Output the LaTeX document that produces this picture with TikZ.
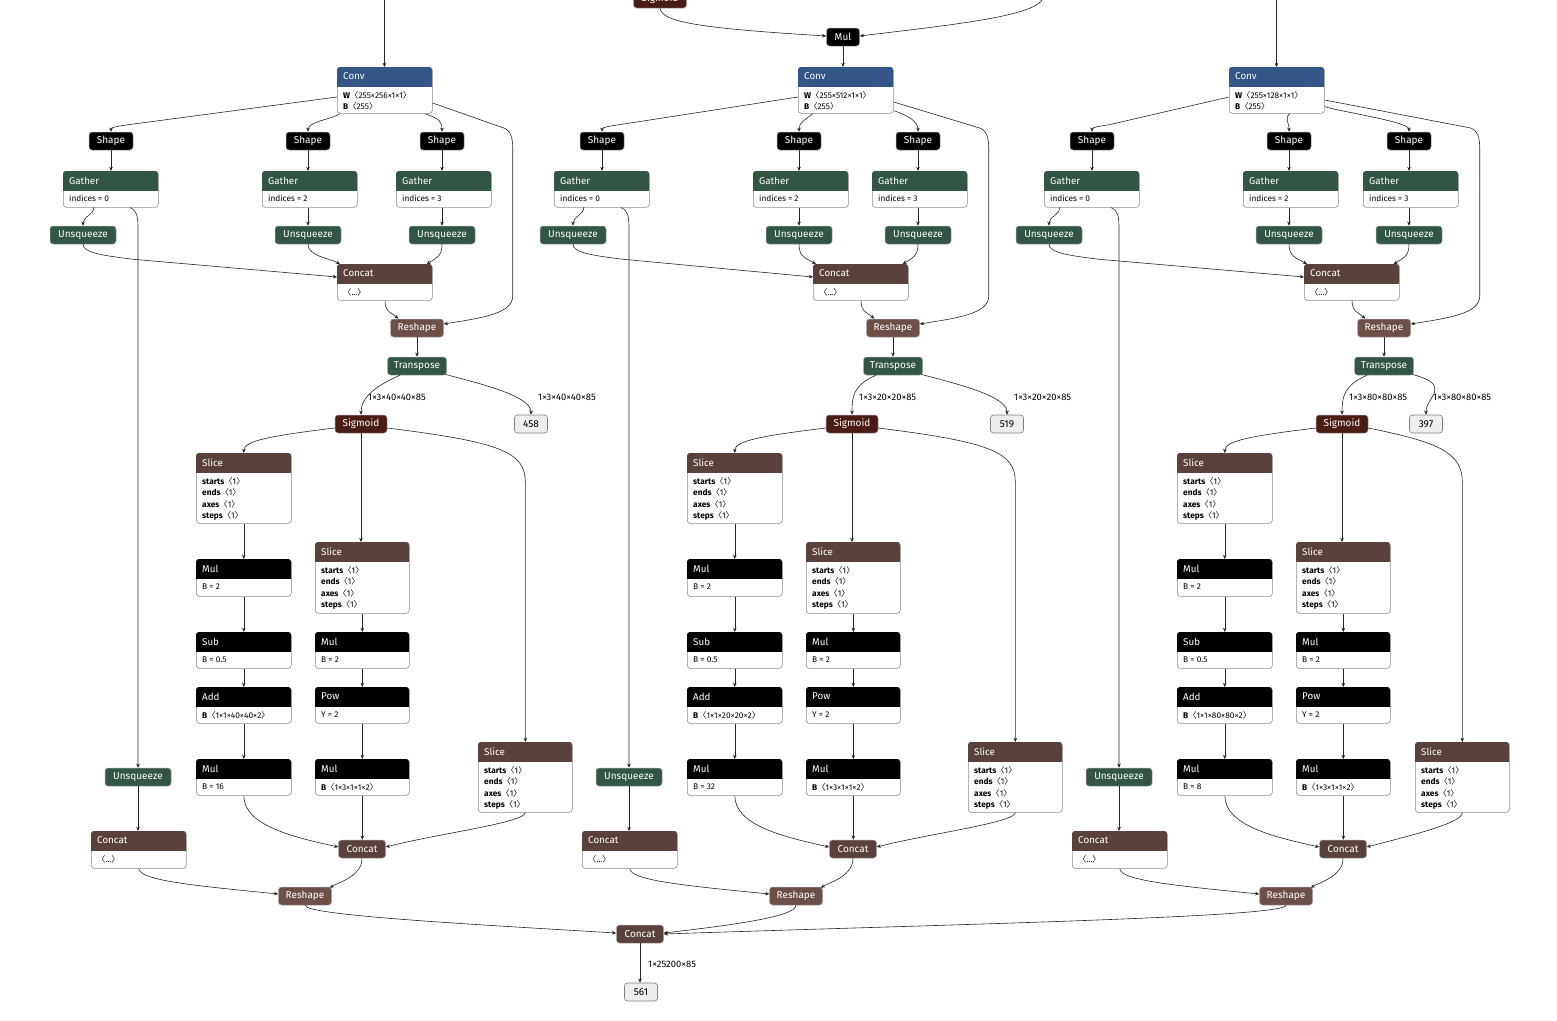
\documentclass[tikz,border=0pt]{standalone}
\usepackage{fontspec}
\setmainfont{Fira Sans}
\newfontfamily\cjkf{Noto Sans CJK SC}
\usetikzlibrary{arrows.meta,calc}
\definecolor{cLayer}{RGB}{51,85,136}
\definecolor{cTrans}{RGB}{51,85,68}
\definecolor{cTensor}{RGB}{89,66,59}
\definecolor{cShape}{RGB}{108,79,71}
\definecolor{cAct}{RGB}{75,27,22}
\definecolor{cOut}{RGB}{238,238,238}
\newcommand\NLa{{\cjkf 〈}}
\newcommand\NRa{{\cjkf 〉}}
\newcommand\SliceBody{\textbf{starts}\NLa1\NRa\\\textbf{ends}\NLa1\NRa\\\textbf{axes}\NLa1\NRa\\\textbf{steps}\NLa1\NRa}
\tikzset{
  hdr/.style={font=\fontsize{9.8}{11}\selectfont, text=white, anchor=west, inner sep=0pt},
  bdy/.style={font=\fontsize{8.3}{11.3}\selectfont, anchor=north west, align=left, inner sep=0pt, text=black},
  op/.style={rounded corners=3pt, minimum height=18pt, inner xsep=4pt, inner ysep=0pt, text=white, font=\fontsize{10}{11}\selectfont, draw=black!35, line width=0.5pt},
  outp/.style={rounded corners=3pt, minimum height=18pt, minimum width=33pt, inner sep=0pt, fill=cOut, draw=black!50, line width=0.6pt, text=black, font=\fontsize{10}{11}\selectfont},
  lbl/.style={font=\fontsize{9.4}{11}\selectfont, anchor=west, inner sep=0pt, text=black},
  edge/.style={draw=black!85, line width=0.6pt, -{Stealth[length=4.2pt,width=3.6pt]}},
}
% name, left x, top y, width, height, colour, title, body
\newcommand\NN[8]{%
  \node[anchor=north west, minimum width=#4pt, minimum height=#5pt, inner sep=0pt, rounded corners=3pt, draw=black!45, fill=white, line width=0.6pt] (#1) at (#2,#3) {};
  \begin{scope}\clip (#2,#3) rectangle ++(#4,19);\fill[#6, rounded corners=3pt] (#2,#3) rectangle ++(#4,#5);\end{scope}
  \node[hdr] (#1h) at ({#2+6},{#3+9.5}) {#7};
  \node[bdy] (#1b) at ({#2+6},{#3+24.2}) {#8};
}
\newcommand\Col[1]{%
  \NN{#1conv}{337+\dC}{67}{95}{46}{cLayer}{Conv}{\textbf{W}\NLa255×\Wt×1×1\NRa\\\textbf{B}\NLa255\NRa}
  \node[op,fill=black,minimum width=44pt] (#1shL) at (111+\dA,141) {Shape};
  \node[op,fill=black,minimum width=44pt] (#1shM) at (308+\dA,141) {Shape};
  \node[op,fill=black,minimum width=44pt] (#1shR) at (442+\dB,141) {Shape};
  \NN{#1gaL}{63+\dA}{171}{95}{36}{cTrans}{Gather}{indices = 0}
  \NN{#1gaM}{262+\dA}{171}{95}{36}{cTrans}{Gather}{indices = 2}
  \NN{#1gaR}{396+\dB}{171}{95}{36}{cTrans}{Gather}{indices = 3}
  \node[op,fill=cTrans,minimum width=66pt] (#1unL) at (83+\dU,235) {Unsqueeze};
  \node[op,fill=cTrans,minimum width=66pt] (#1unM) at (308+\dA,235) {Unsqueeze};
  \node[op,fill=cTrans,minimum width=66pt] (#1unR) at (442+\dB,235) {Unsqueeze};
  \NN{#1ccA}{337+\dB}{264}{95}{36}{cTensor}{Concat}{\NLa...\NRa}
  \node[op,fill=cShape,minimum width=53pt] (#1rsA) at (417+\dB,328) {Reshape};
  \node[op,fill=cTrans,minimum width=59pt] (#1tr) at (417+\dB,366) {Transpose};
  \node[op,fill=cAct,minimum width=52pt] (#1sig) at (361+\dA,424) {Sigmoid};
  \node[outp] (#1out) at (531+\dO,424) {\Ot};
  \node[lbl] (#1lbA) at (368+\dA,397) {1×3×\Lt×\Lt×85};
  \node[lbl] (#1lbB) at (538+\dO,397) {1×3×\Lt×\Lt×85};
  \NN{#1slL}{196+\dA}{453}{95}{70}{cTensor}{Slice}{\SliceBody}
  \NN{#1mulA}{196+\dA}{559}{95}{37}{black}{Mul}{B = 2}
  \NN{#1sub}{196+\dA}{632}{95}{36}{black}{Sub}{B = 0.5}
  \NN{#1add}{196+\dA}{687}{95}{36}{black}{Add}{\textbf{B}\NLa1×1×\Lt×\Lt×2\NRa}
  \NN{#1mulB}{196+\dA}{759}{95}{36}{black}{Mul}{B = \Mt}
  \NN{#1slM}{315+\dA}{542}{94}{71}{cTensor}{Slice}{\SliceBody}
  \NN{#1mulC}{315+\dA}{632}{94}{36}{black}{Mul}{B = 2}
  \NN{#1pow}{315+\dA}{687}{94}{36}{black}{Pow}{Y = 2}
  \NN{#1mulD}{315+\dA}{759}{94}{36}{black}{Mul}{\textbf{B}\NLa1×3×1×1×2\NRa}
  \NN{#1slR}{478+\dS}{742}{94}{70}{cTensor}{Slice}{\SliceBody}
  \node[op,fill=cTensor,minimum width=47pt] (#1ccB) at (362+\dA,849) {Concat};
  \node[op,fill=cTrans,minimum width=66pt] (#1unLo) at (138+\dA,777) {Unsqueeze};
  \NN{#1ccC}{91+\dA}{831}{95}{37}{cTensor}{Concat}{\NLa...\NRa}
  \node[op,fill=cShape,minimum width=53pt] (#1rsB) at (305+\dA,896) {Reshape};
  % connectors
  \draw[edge] (#1in) -- (#1in |- #1conv.north);
  \draw[edge] ($(#1conv.north west)+(0,30)$) -- ($(#1shL.north)+(17,-7)$) .. controls ($(#1shL.north)+(3,-5)$) and ($(#1shL.north)+(0,-4)$) .. (#1shL.north);
  \draw[edge] ($(#1conv.south west)+(\mo,0)$) .. controls ($(#1conv.south west)+(\mo-6,5)$) and ($(#1shM.north)+(0,-10)$) .. (#1shM.north);
  \draw[edge] ($(#1conv.south east)+(\rox,\roy)$) .. controls ($(#1conv.south east)+(\rox+15,\roy+5)$) and ($(#1shR.north)+(0,-10)$) .. (#1shR.north);
  \draw[edge] ($(#1conv.north east)+(0,\rro)$) -- ($(#1rsA.east)+(60,-200)$) .. controls ($(#1rsA.east)+(67,-197)$) and ($(#1rsA.east)+(69,-191)$) .. ($(#1rsA.east)+(69,-178)$) -- ($(#1rsA.east)+(69,-32)$) .. controls ($(#1rsA.east)+(69,-14)$) and ($(#1rsA.east)+(37,-10)$) .. ($(#1rsA.east)+(0,-4)$);
  \draw[edge] (#1shL.south) -- (#1shL.south |- #1gaL.north);
  \draw[edge] (#1shM.south) -- (#1shM.south |- #1gaM.north);
  \draw[edge] (#1shR.south) -- (#1shR.south |- #1gaR.north);
  \draw[edge] ($(#1unL.north)+(11,-19)$) .. controls ($(#1unL.north)+(11,-11)$) and ($(#1unL.north)+(0,-9)$) .. (#1unL.north);
  \draw[edge] ($(#1gaL.south west)+(67,0)$) .. controls ($(#1gaL.south west)+(74,3)$) and ($(#1gaL.south west)+(75,8)$) .. ($(#1gaL.south west)+(75,22)$) -- (#1unLo.north);
  \draw[edge] (#1gaM.south -| #1unM.north) -- (#1unM.north);
  \draw[edge] (#1gaR.south -| #1unR.north) -- (#1unR.north);
  \draw[edge] (#1unL.south) .. controls ($(#1unL.south)+(0,8)$) and ($(#1unL.south)+(17,11)$) .. ($(#1unL.south)+(50,15)$) -- ($(#1ccA.north west)+(0,13)$);
  \draw[edge] (#1unM.south) .. controls ($(#1unM.south)+(0,12)$) and ($(#1ccA.north west)+(-8,-6)$) .. ($(#1ccA.north west)+(3,0)$);
  \draw[edge] (#1unR.south) .. controls ($(#1unR.south)+(0,12)$) and ($(#1ccA.north east)+(4,-6)$) .. ($(#1ccA.north east)+(-6,0)$);
  \draw[edge] ($(#1ccA.south west)+(48,0)$) .. controls ($(#1ccA.south west)+(48,12)$) and ($(#1rsA.north west)+(2,-6)$) .. ($(#1rsA.north west)+(8,0)$);
  \draw[edge] (#1rsA.south) -- (#1tr.north);
  \draw[edge] ($(#1tr.south)+(-17,0)$) .. controls ($(#1tr.south)+(-40,10)$) and ($(#1sig.north)+(0,-18)$) .. (#1sig.north);
  \draw[edge] ($(#1tr.south east)+(-2,-1)$) .. controls ($(#1tr.south east)+(40,10)$) and ($(#1out.north)+(0,-18)$) .. (#1out.north);
  \draw[edge] ($(#1sig.west)+(0,4)$) .. controls ($(#1slL.north)+(25,-17)$) and ($(#1slL.north)+(0,-12)$) .. (#1slL.north);
  \draw[edge] (#1sig.south) -- (#1sig.south |- #1slM.north);
  \draw[edge] ($(#1sig.east)+(0,4)$) .. controls ($(#1slR.north)+(-25,-300)$) and ($(#1slR.north)+(0,-290)$) .. ($(#1slR.north)+(0,-260)$) -- (#1slR.north);
  \draw[edge] (#1slL.south) -- (#1mulA.north);
  \draw[edge] (#1mulA.south) -- (#1sub.north);
  \draw[edge] (#1sub.south) -- (#1add.north);
  \draw[edge] (#1add.south) -- (#1mulB.north);
  \draw[edge] (#1slM.south) -- (#1mulC.north);
  \draw[edge] (#1mulC.south) -- (#1pow.north);
  \draw[edge] (#1pow.south) -- (#1mulD.north);
  \draw[edge] (#1mulB.south) .. controls ($(#1mulB.south)+(0,30)$) and ($(#1ccB.west)+(-45,-12)$) .. ($(#1ccB.west)+(0,-2)$);
  \draw[edge] (#1mulD.south) -- (#1mulD.south |- #1ccB.north);
  \draw[edge] (#1slR.south) .. controls ($(#1slR.south)+(0,10)$) and ($(#1ccB.east)+(50,-15)$) .. ($(#1ccB.east)+(0,-2)$);
  \draw[edge] (#1unLo.south) -- (#1unLo.south |- #1ccC.north);
  \draw[edge] (#1ccC.south) .. controls ($(#1ccC.south)+(0,12)$) and ($(#1rsB.west)+(-80,-10)$) .. ($(#1rsB.west)+(0,-2)$);
  \draw[edge] (#1ccB.south) .. controls ($(#1ccB.south)+(0,18)$) and ($(#1rsB.north east)+(8,-5)$) .. ($(#1rsB.north east)+(-2,1)$);
}
\begin{document}
\begin{tikzpicture}[x=1pt,y=-1pt]
\fill[white] (0,0) rectangle (1557,1020);
\useasboundingbox (0,0) rectangle (1557,1020);
% top of the middle column
\node[op,fill=cAct,minimum width=53pt] (bsigT) at (660,-1) {Sigmoid};
\node[op,fill=black,minimum width=33pt] (bmul) at (843,37) {Mul};
\coordinate (bfree) at (1043,-3);
\draw[edge] (bsigT.south) .. controls ($(bsigT.south)+(2,14)$) and ($(bsigT.south)+(40,20)$) .. ($(bmul.west)+(0,-1)$);
\draw[edge] (bfree) .. controls (1041,16) and (950,25) .. ($(bmul.east)+(0,-1)$);
\coordinate (bin) at (bmul.south);
\coordinate (ain) at (384.5,-3);
\coordinate (cin) at (1276.5,-3);
% column 1
\def\dA{0}\def\dB{0}\def\dC{0}\def\dS{0}\def\dU{0}\def\dO{0}
\def\mo{3}\def\rox{-8}\def\roy{0}\def\rro{36}
\def\Wt{256}\def\Lt{40}\def\Mt{16}\def\Ot{458}
\Col{a}
% column 2
\def\dA{491}\def\dB{476}\def\dC{461}\def\dS{490}\def\dU{490}\def\dO{476}
\def\mo{15}\def\rox{0}\def\roy{-3}\def\rro{35}
\def\Wt{512}\def\Lt{20}\def\Mt{32}\def\Ot{519}
\Col{b}
% column 3
\def\dA{981}\def\dB{967}\def\dC{892}\def\dS{937}\def\dU{966}\def\dO{895}
\def\mo{61}\def\rox{0}\def\roy{-7}\def\rro{33}
\def\Wt{128}\def\Lt{80}\def\Mt{8}\def\Ot{397}
\Col{c}
% final concat
\node[op,fill=cTensor,minimum width=47pt] (fcat) at (640,934) {Concat};
\node[outp] (fout) at (641,992) {561};
\node[lbl] (flbl) at (648,964) {1×25200×85};
\draw[edge] (fcat.south) -- (fcat.south |- fout.north);
\draw[edge] (arsB.south) .. controls ($(arsB.south)+(0,10)$) and ($(fcat.west)+(-150,-10)$) .. ($(fcat.west)+(0,-1)$);
\draw[edge] (brsB.south) .. controls ($(brsB.south)+(0,12)$) and ($(fcat.east)+(60,-8)$) .. ($(fcat.east)+(0,-1)$);
\draw[edge] (crsB.south) .. controls ($(crsB.south)+(0,12)$) and ($(fcat.east)+(300,-10)$) .. (fcat.east);
\end{tikzpicture}
\end{document}
